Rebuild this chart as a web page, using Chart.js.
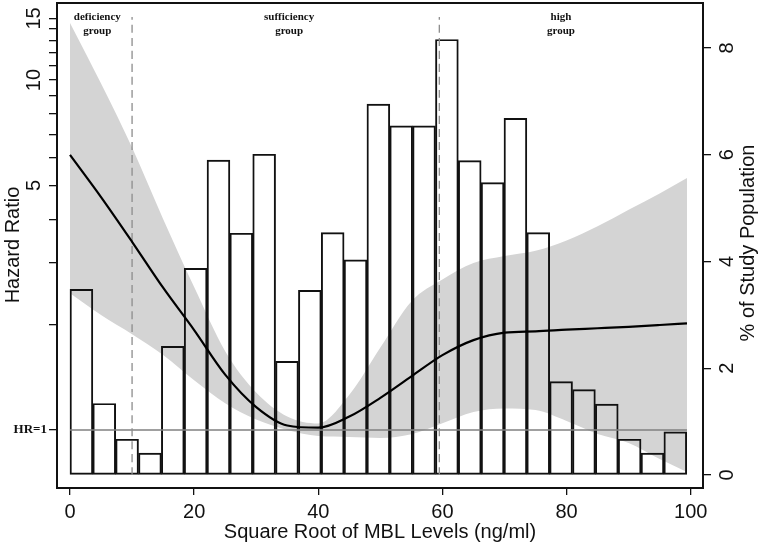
<!DOCTYPE html>
<html lang="en">
<head>
<meta charset="UTF-8">
<title>MBL levels and hazard ratio</title>
<script src="https://cdn.jsdelivr.net/npm/chart.js"></script>
<style>
  body { margin: 0; background: #ffffff; }
  canvas { display: block; }
</style>
</head>
<body>
<canvas id="hrChart" width="762" height="545"></canvas>
<script>
  // spline fit (hazard ratio) with its confidence band
  const splineX = [0, 5, 10, 15, 20, 25, 30, 35, 40, 45, 50, 55, 60, 65, 70, 75, 80, 85, 90, 95, 99.4];
  const hrFit   = [6.11, 4.63, 3.45, 2.55, 1.93, 1.44, 1.163, 1.03, 1.015, 1.092, 1.235, 1.423, 1.636, 1.806, 1.898, 1.914, 1.935, 1.953, 1.972, 1.995, 2.017];
  const hrUpper = [14.55, 9.77, 6.41, 4.01, 2.56, 1.68, 1.28, 1.093, 1.044, 1.26, 1.72, 2.33, 2.69, 3.0, 3.14, 3.25, 3.48, 3.82, 4.26, 4.74, 5.25];
  const hrLower = [2.46, 2.13, 1.877, 1.638, 1.387, 1.192, 1.071, 1.0, 0.961, 0.955, 0.949, 0.972, 1.045, 1.126, 1.152, 1.14, 1.061, 0.974, 0.918, 0.826, 0.759];

  // histogram: % of study population per bin
  const binCenters = [1.84, 5.52, 9.2, 12.88, 16.56, 20.24, 23.92, 27.6, 31.28, 34.96, 38.64, 42.32, 46, 49.68,
                      53.36, 57.04, 60.72, 64.4, 68.08, 71.76, 75.44, 79.12, 82.8, 86.48, 90.16, 93.84, 97.52];
  const binPct = [3.48, 1.34, 0.67, 0.41, 2.41, 3.87, 5.9, 4.53, 6.01, 2.13, 3.46, 4.54, 4.03, 6.95,
                  6.54, 6.54, 8.16, 5.89, 5.48, 6.68, 4.54, 1.75, 1.6, 1.33, 0.67, 0.41, 0.81];

  // group cut-offs and labels
  const cutoffs = [10, 59.5];
  const cutoffTop = 8.58;
  const groupNames = [['deficiency', 'group'], ['sufficiency', 'group'], ['high', 'group']];
  const groupX = [4.4, 35.3, 79.1];

  const xTicks = [0, 20, 40, 60, 80, 100];
  const hrTicks = [1, 2, 3, 4, 5, 6, 7, 8, 9, 10, 11, 12, 13, 14, 15];
  const hrLabels = [5, 10, 15];
  const pctTicks = [0, 2, 4, 6, 8];

  const SANS = '"Liberation Sans", Arial, sans-serif';
  const SERIF = '"Liberation Serif", "Times New Roman", serif';
  const INK = '#111111';

  const pts = (xs, ys) => xs.map((x, i) => ({ x, y: ys[i] }));

  const annotate = {
    id: 'annotate',
    afterDraw(chart) {
      const { ctx, chartArea: a, scales } = chart;
      const xs = scales.x, hr = scales.hr, pct = scales.pct;
      ctx.save();

      // frame
      ctx.strokeStyle = INK;
      ctx.lineWidth = 2;
      ctx.strokeRect(a.left, a.top, a.right - a.left, a.bottom - a.top);

      // rotated axis labels (read bottom to top)
      ctx.fillStyle = INK;
      ctx.font = '20px ' + SANS;
      ctx.textAlign = 'center';
      ctx.textBaseline = 'middle';
      const vText = (txt, cx, cy) => {
        ctx.save();
        ctx.translate(cx, cy);
        ctx.rotate(-Math.PI / 2);
        ctx.fillText(txt, 0, 0);
        ctx.restore();
      };
      hrLabels.forEach(v => vText(String(v), 34, hr.getPixelForValue(v)));
      pctTicks.forEach(v => vText(String(v), 727, pct.getPixelForValue(v)));
      vText('Hazard Ratio', 13, 245);
      vText('% of Study Population', 748, 243);

      // reference label
      ctx.font = 'bold 13px ' + SERIF;
      ctx.textAlign = 'right';
      ctx.fillText('HR=1', 47, hr.getPixelForValue(1));

      // group labels
      ctx.font = 'bold 11px ' + SERIF;
      ctx.textAlign = 'center';
      groupNames.forEach((g, i) => {
        const gx = xs.getPixelForValue(groupX[i]);
        ctx.fillText(g[0], gx, 17);
        ctx.fillText(g[1], gx, 31);
      });
      ctx.restore();
    }
  };

  const lineBase = {
    type: 'line',
    pointRadius: 0,
    fill: false,
    cubicInterpolationMode: 'monotone'
  };

  new Chart(document.getElementById('hrChart').getContext('2d'), {
    type: 'line',
    data: {
      datasets: [
        {
          ...lineBase,
          label: 'upper',
          data: pts(splineX, hrUpper),
          yAxisID: 'hr',
          borderWidth: 0,
          borderColor: 'rgba(0,0,0,0)',
          backgroundColor: '#d4d4d4',
          fill: 1,
          order: 6
        },
        {
          ...lineBase,
          label: 'lower',
          data: pts(splineX, hrLower),
          yAxisID: 'hr',
          borderWidth: 0,
          borderColor: 'rgba(0,0,0,0)',
          order: 6
        },
        {
          type: 'bar',
          label: 'population',
          data: pts(binCenters, binPct),
          yAxisID: 'pct',
          backgroundColor: 'rgba(0,0,0,0)',
          borderColor: INK,
          borderWidth: 1.3,
          borderSkipped: false,
          barPercentage: 1,
          categoryPercentage: 1,
          order: 5
        },
        {
          ...lineBase,
          label: 'HR=1',
          data: pts([splineX[0], splineX[splineX.length - 1]], [1, 1]),
          yAxisID: 'hr',
          borderColor: '#808080',
          borderWidth: 1.3,
          order: 4
        },
        ...cutoffs.map(c => ({
          ...lineBase,
          label: 'cutoff ' + c,
          data: pts([c, c], [0, cutoffTop]),
          yAxisID: 'pct',
          borderColor: '#8c8c8c',
          borderWidth: 1.3,
          borderDash: [8, 5],
          order: 3
        })),
        {
          ...lineBase,
          label: 'hazard ratio',
          data: pts(splineX, hrFit),
          yAxisID: 'hr',
          borderColor: '#000000',
          borderWidth: 2.2,
          order: 1
        }
      ]
    },
    options: {
      responsive: false,
      animation: false,
      events: [],
      layout: { padding: { top: 3, left: 0, right: 0, bottom: 0 } },
      plugins: {
        legend: { display: false },
        tooltip: { enabled: false }
      },
      scales: {
        x: {
          type: 'linear',
          min: -2.094,
          max: 101.98,
          offset: false,
          afterBuildTicks: s => { s.ticks = xTicks.map(v => ({ value: v })); },
          ticks: { color: INK, font: { size: 20, family: SANS }, padding: 5, maxRotation: 0, autoSkip: false },
          grid: { drawOnChartArea: false, drawTicks: true, tickLength: 7, color: INK, lineWidth: 1.3, offset: false },
          border: { display: false },
          title: {
            display: true,
            text: 'Square Root of MBL Levels (ng/ml)',
            color: INK,
            font: { size: 20, family: SANS },
            padding: { top: 0, bottom: 1 }
          },
          afterFit: s => { s.height = 57; }
        },
        hr: {
          type: 'logarithmic',
          position: 'left',
          min: 0.6827,
          max: 16.6,
          afterBuildTicks: s => { s.ticks = hrTicks.map(v => ({ value: v })); },
          ticks: { display: false },
          grid: { drawOnChartArea: false, drawTicks: true, tickLength: 8, color: INK, lineWidth: 1.3 },
          border: { display: false },
          afterFit: s => { s.width = 57; }
        },
        pct: {
          type: 'linear',
          position: 'right',
          min: -0.2436,
          max: 8.843,
          afterBuildTicks: s => { s.ticks = pctTicks.map(v => ({ value: v })); },
          ticks: { display: false },
          grid: { drawOnChartArea: false, drawTicks: true, tickLength: 8, color: INK, lineWidth: 1.3 },
          border: { display: false },
          afterFit: s => { s.width = 59; }
        }
      }
    },
    plugins: [annotate]
  });
</script>
</body>
</html>
